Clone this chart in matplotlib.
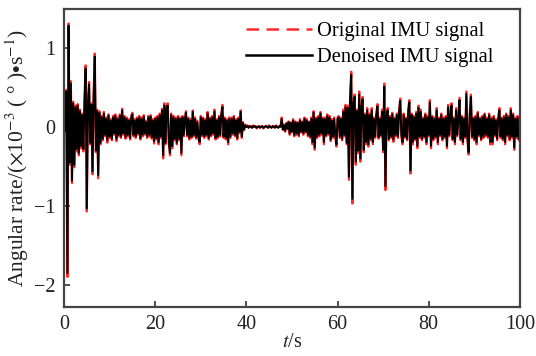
#!/usr/bin/env python3
"""IMU angular-rate signal: original vs. wavelet-denoised, 0-100 s."""
import matplotlib
matplotlib.use("Agg")
import matplotlib.pyplot as plt
import numpy as np
from matplotlib.lines import Line2D

plt.rcParams["font.family"] = ["Liberation Serif", "DejaVu Serif"]
plt.rcParams["mathtext.fontset"] = "stix"

# sample times (s), 0.25 s spacing
t = np.arange(0, 100.001, 0.25)

# denoised signal, values (x1e-3 deg/s), 8 samples per row = 2 s
denoised = [
    0.22, -0.05, 0.45, -1.85, 1.28, -0.45, 0.55, -0.68,
    0.30, -0.48, 0.25, -0.28, 0.27, -0.33, 0.20, -0.24,
    0.15, -0.28, 0.33, 0.74, -1.03, 0.30, 0.54, -0.20,
    0.28, -0.56, 0.40, 0.89, -0.30, 0.20, -0.61, 0.18,
    -0.20, 0.12, -0.15, 0.17, -0.10, 0.10, -0.17, 0.14,
    -0.12, 0.08, -0.15, 0.12, -0.08, 0.14, -0.15, 0.10,
    -0.10, 0.14, -0.12, 0.21, -0.08, 0.12, -0.13, 0.10,
    -0.10, 0.08, -0.14, 0.12, 0.16, -0.10, 0.08, -0.12,
    0.10, -0.08, 0.12, -0.14, 0.10, -0.10, 0.13, -0.08,
    0.06, -0.12, 0.12, -0.10, 0.13, -0.13, 0.08, -0.18,
    0.10, -0.14, 0.12, -0.19, 0.15, -0.12, 0.21, -0.36,
    0.27, -0.20, 0.24, 0.27, -0.20, -0.33, 0.15, -0.24,
    0.12, -0.15, 0.10, -0.20, 0.12, -0.15, 0.10, -0.33,
    0.12, -0.10, 0.08, 0.18, -0.10, 0.10, -0.14, 0.08,
    -0.12, 0.19, -0.10, 0.10, -0.13, 0.06, -0.12, -0.19,
    0.12, -0.10, 0.10, -0.12, 0.08, -0.10, 0.17, -0.14,
    0.10, -0.10, 0.12, -0.08, 0.19, -0.14, 0.08, -0.12,
    0.12, -0.10, 0.15, 0.25, -0.12, 0.10, -0.14, 0.08,
    -0.19, 0.10, -0.12, 0.10, -0.08, 0.12, -0.10, 0.08,
    -0.14, 0.10, -0.06, 0.19, -0.12, 0.05, -0.03, 0.02,
    0.00, 0.01, -0.01, 0.01, 0.00, -0.01, 0.01, 0.00,
    0.01, -0.01, 0.00, 0.01, -0.01, 0.00, 0.01, -0.01,
    0.00, 0.01, 0.00, -0.01, 0.01, 0.00, -0.01, 0.01,
    0.00, -0.01, 0.01, 0.00, -0.01, 0.01, 0.00, 0.10,
    -0.03, 0.02, -0.05, 0.04, -0.02, 0.06, -0.08, 0.05,
    -0.06, 0.08, -0.10, 0.06, -0.08, 0.05, -0.10, 0.08,
    -0.06, 0.06, -0.08, 0.10, -0.06, 0.08, -0.10, 0.06,
    -0.12, 0.10, -0.19, 0.18, -0.26, 0.10, -0.12, 0.12,
    -0.10, 0.17, -0.08, 0.10, -0.19, 0.10, -0.10, 0.14,
    -0.08, 0.12, -0.16, 0.08, -0.12, 0.10, -0.10, -0.22,
    0.10, 0.12, -0.12, 0.10, -0.15, 0.19, -0.10, 0.25,
    -0.20, 0.24, -0.63, 0.35, 0.66, -0.91, 0.30, 0.38,
    -0.44, 0.20, -0.30, 0.41, -0.40, 0.25, 0.35, -0.29,
    0.15, -0.19, 0.21, -0.22, 0.15, -0.15, 0.21, -0.19,
    0.10, -0.12, 0.15, 0.26, -0.13, 0.10, -0.10, 0.19,
    -0.29, 0.51, -0.75, 0.15, 0.21, -0.15, 0.12, -0.12,
    0.16, -0.16, 0.10, -0.10, 0.15, -0.12, 0.19, 0.33,
    -0.10, -0.19, 0.15, -0.12, 0.10, -0.15, 0.19, 0.31,
    -0.55, 0.15, -0.19, 0.12, -0.15, 0.17, -0.24, 0.24,
    -0.12, 0.19, -0.15, 0.10, -0.12, 0.15, -0.19, 0.12,
    -0.10, 0.31, -0.24, 0.12, -0.15, 0.10, -0.12, 0.21,
    -0.19, 0.10, -0.10, 0.15, -0.15, 0.10, -0.12, 0.12,
    -0.24, 0.25, -0.10, 0.15, 0.27, -0.15, 0.10, -0.19,
    0.21, -0.10, 0.10, 0.34, -0.15, 0.12, -0.19, 0.10,
    -0.12, 0.42, -0.15, -0.32, 0.15, 0.38, -0.12, 0.10,
    -0.15, 0.12, -0.19, 0.17, -0.10, 0.10, -0.15, 0.12,
    -0.12, 0.15, -0.10, 0.10, -0.12, 0.15, -0.19, 0.10,
    -0.19, 0.12, -0.10, 0.08, -0.15, 0.10, 0.21, -0.12,
    0.10, -0.15, 0.12, -0.19, 0.15, -0.10, 0.12, -0.15,
    0.21, -0.12, 0.15, -0.26, 0.10, -0.12, 0.12, -0.15,
    0.08,
]

# original (noisy) signal -- peaks stick out slightly past the denoised trace
original = [
    0.23, -0.06, 0.47, -1.90, 1.31, -0.48, 0.58, -0.71,
    0.32, -0.51, 0.27, -0.31, 0.29, -0.36, 0.22, -0.27,
    0.17, -0.31, 0.36, 0.78, -1.07, 0.32, 0.57, -0.22,
    0.30, -0.60, 0.42, 0.93, -0.32, 0.22, -0.65, 0.20,
    -0.22, 0.14, -0.17, 0.19, -0.12, 0.12, -0.20, 0.16,
    -0.14, 0.10, -0.17, 0.14, -0.10, 0.16, -0.18, 0.12,
    -0.12, 0.16, -0.14, 0.23, -0.10, 0.14, -0.15, 0.12,
    -0.12, 0.10, -0.16, 0.14, 0.18, -0.12, 0.10, -0.14,
    0.12, -0.10, 0.14, -0.16, 0.12, -0.12, 0.15, -0.10,
    0.08, -0.14, 0.14, -0.12, 0.15, -0.15, 0.10, -0.21,
    0.12, -0.16, 0.14, -0.22, 0.17, -0.14, 0.23, -0.40,
    0.30, -0.22, 0.26, 0.30, -0.22, -0.36, 0.17, -0.27,
    0.14, -0.17, 0.12, -0.22, 0.14, -0.17, 0.12, -0.36,
    0.14, -0.12, 0.10, 0.20, -0.12, 0.12, -0.16, 0.10,
    -0.14, 0.21, -0.12, 0.12, -0.15, 0.08, -0.14, -0.22,
    0.14, -0.12, 0.12, -0.14, 0.10, -0.12, 0.19, -0.16,
    0.12, -0.12, 0.14, -0.10, 0.22, -0.16, 0.10, -0.14,
    0.14, -0.12, 0.17, 0.28, -0.14, 0.12, -0.16, 0.10,
    -0.22, 0.12, -0.14, 0.12, -0.10, 0.14, -0.12, 0.10,
    -0.16, 0.12, -0.08, 0.21, -0.14, 0.06, -0.04, 0.03,
    0.00, 0.02, -0.01, 0.01, 0.01, -0.01, 0.02, 0.00,
    0.01, -0.02, 0.00, 0.01, -0.01, 0.01, 0.01, -0.02,
    0.00, 0.01, 0.01, -0.01, 0.02, 0.00, -0.01, 0.01,
    0.01, -0.01, 0.02, 0.00, -0.01, 0.01, 0.01, 0.12,
    -0.04, 0.03, -0.06, 0.05, -0.03, 0.07, -0.10, 0.06,
    -0.07, 0.10, -0.12, 0.07, -0.10, 0.06, -0.12, 0.10,
    -0.07, 0.07, -0.10, 0.12, -0.07, 0.10, -0.12, 0.07,
    -0.14, 0.12, -0.22, 0.20, -0.29, 0.12, -0.14, 0.14,
    -0.12, 0.19, -0.10, 0.12, -0.22, 0.12, -0.12, 0.16,
    -0.10, 0.14, -0.18, 0.10, -0.14, 0.12, -0.12, -0.25,
    0.12, 0.14, -0.14, 0.12, -0.17, 0.22, -0.12, 0.28,
    -0.22, 0.27, -0.67, 0.38, 0.70, -0.97, 0.32, 0.41,
    -0.48, 0.22, -0.33, 0.45, -0.44, 0.27, 0.38, -0.32,
    0.17, -0.22, 0.24, -0.25, 0.17, -0.17, 0.24, -0.22,
    0.12, -0.14, 0.17, 0.29, -0.15, 0.12, -0.12, 0.22,
    -0.32, 0.55, -0.80, 0.17, 0.24, -0.17, 0.14, -0.14,
    0.18, -0.19, 0.12, -0.12, 0.17, -0.14, 0.22, 0.36,
    -0.12, -0.22, 0.17, -0.14, 0.12, -0.17, 0.22, 0.34,
    -0.59, 0.17, -0.22, 0.14, -0.17, 0.19, -0.27, 0.27,
    -0.14, 0.22, -0.17, 0.12, -0.14, 0.17, -0.22, 0.14,
    -0.12, 0.34, -0.27, 0.14, -0.17, 0.12, -0.14, 0.24,
    -0.22, 0.12, -0.12, 0.17, -0.17, 0.12, -0.14, 0.14,
    -0.27, 0.28, -0.12, 0.17, 0.30, -0.17, 0.12, -0.22,
    0.24, -0.12, 0.12, 0.37, -0.17, 0.14, -0.22, 0.12,
    -0.14, 0.45, -0.17, -0.35, 0.17, 0.41, -0.14, 0.12,
    -0.17, 0.14, -0.22, 0.19, -0.12, 0.12, -0.17, 0.14,
    -0.14, 0.17, -0.12, 0.12, -0.14, 0.17, -0.22, 0.12,
    -0.22, 0.14, -0.12, 0.10, -0.17, 0.12, 0.24, -0.14,
    0.12, -0.17, 0.14, -0.22, 0.17, -0.12, 0.14, -0.17,
    0.24, -0.14, 0.17, -0.29, 0.12, -0.14, 0.14, -0.17,
    0.09,
]

x_ticks = [0, 20, 40, 60, 80, 100]
y_ticks = [-2, -1, 0, 1]

fig = plt.figure(figsize=(5.36, 3.56), dpi=100)
ax = fig.add_axes((0.1194, 0.1376, 0.8506, 0.8364))

ax.plot(t, original, color="#ff2a2a", lw=1.6)
ax.plot(t, denoised, color="black", lw=1.4)

ax.set_xlim(0, 100)
ax.set_ylim(-2.28, 1.49)
ax.set_xticks(x_ticks)
ax.set_yticks(y_ticks)
ax.set_yticklabels(["\u22122", "\u22121", "0", "1"])
ax.tick_params(direction="in", length=4, width=1.2, labelsize=14.5,
               colors="#333333", labelcolor="#222222")
ax.tick_params(axis="x", pad=6)
ax.tick_params(axis="y", pad=6)
for sp in ax.spines.values():
    sp.set_color("#444444")
    sp.set_linewidth(1.6)

ax.set_xlabel(r"$t$/s", fontsize=14.5, color="#222222", labelpad=-1)
ax.set_ylabel(r"Angular rate/($\times$10$^{-3}$ ( ° )$\bullet$s$^{-1}$)",
              fontsize=15.5, color="#222222", labelpad=2)

handles = [
    Line2D([], [], color="#ff2a2a", lw=1.8, ls=(0, (5, 3))),
    Line2D([], [], color="black", lw=1.8),
]
ax.legend(handles, ["Original IMU signal", "Denoised IMU signal"],
          loc="upper right", frameon=False, fontsize=14.8,
          handlelength=3.2, handletextpad=0.25, labelspacing=0.3,
          borderaxespad=0.0, bbox_to_anchor=(0.96, 0.985))

fig.savefig("out.png", dpi=100)
